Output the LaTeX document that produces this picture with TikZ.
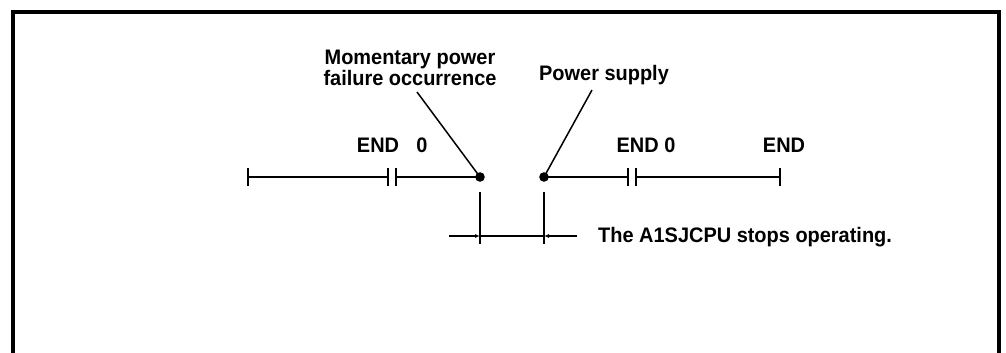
\documentclass[tikz,border=0pt]{standalone}
\usepackage{fontspec}
\setmainfont{Liberation Sans}
\newfontfamily\lblfont[FakeStretch=0.95]{Liberation Sans}
\usetikzlibrary{arrows.meta}

\tikzset{
  lbl/.style={font=\lblfont\bfseries\fontsize{21}{19}\selectfont, inner sep=0pt},
  timeline/.style={line width=2pt},
  marker/.style={line width=2pt},
  leader/.style={line width=1.5pt},
  dimline/.style={line width=1.4pt},
  dimarrow/.style={dimline, -{Latex[length=5pt,width=4pt]}}
}

\begin{document}
\begin{tikzpicture}[x=1pt,y=-1pt]
    \useasboundingbox (0,0) rectangle (1006,353);
    % frame
    \draw[line width=3.4pt] (13,353) -- (13,12) -- (999,12) -- (999,353);
    % scan times
    \coordinate (s) at (248,177);
    \coordinate (b1) at (388,177);
    \coordinate (b2) at (396,177);
    \coordinate (pf) at (480,177);
    \coordinate (ps) at (544,177);
    \coordinate (b3) at (628,177);
    \coordinate (b4) at (636,177);
    \coordinate (e) at (780,177);
    \coordinate (dim) at (0,236);
    \draw[timeline] (s) -- (b1);
    \draw[timeline] (b2) -- (pf);
    \draw[timeline] (ps) -- (b3);
    \draw[timeline] (b4) -- (e);
    \foreach \p in {s,b1,b2,b3,b4,e}
        \draw[marker] ([yshift=-9pt]\p) -- ([yshift=9pt]\p);
    \fill (pf) circle (4.8pt);
    \fill (ps) circle (4.8pt);
    \node[lbl, anchor=base] (end1) at (378,152) {END};
    \node[lbl, anchor=base] (zero1) at (422,152) {0};
    \node[lbl, anchor=base] (end2) at (646,152) {END 0};
    \node[lbl, anchor=base] (end3) at (784,152) {END};
    % labels
    \node[lbl, align=center, anchor=base] (mpf) at (410,85) {Momentary power\\failure occurrence};
    \node[lbl, anchor=base] (psup) at (604,80) {Power supply};
    \coordinate (mpfl) at (417,92);
    \coordinate (psupl) at (592,90);
    \draw[leader] (mpfl) -- (pf);
    \draw[leader] (psupl) -- (ps);
    % stop time
    \draw[dimline] ([yshift=-15pt]pf) -- ([yshift=-8pt]pf |- dim);
    \draw[dimline] ([yshift=-15pt]ps) -- ([yshift=-8pt]ps |- dim);
    \draw[dimarrow] ([xshift=-31pt]pf |- dim) -- (pf |- dim);
    \draw[dimline] (pf |- dim) -- (ps |- dim);
    \draw[dimarrow] ([xshift=33pt]ps |- dim) -- (ps |- dim);
    \node[lbl, anchor=base west] (stop) at (598,242) {The A1SJCPU stops operating.};
\end{tikzpicture}
\end{document}
